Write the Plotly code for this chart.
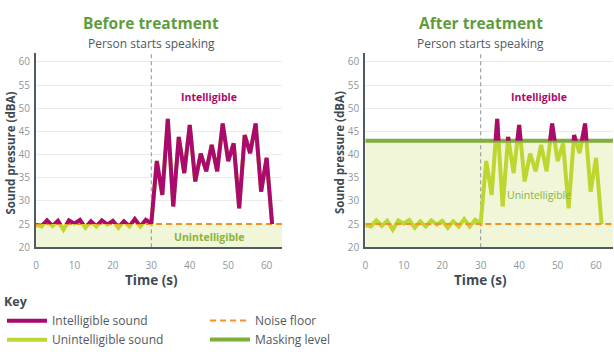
import plotly.graph_objects as go

# ---------------- data ----------------
time_s = [0, 1.43, 2.86, 4.29, 5.71, 7.14, 8.57, 10, 11.43, 12.86, 14.29, 15.71,
          17.14, 18.57, 20, 21.43, 22.86, 24.29, 25.71, 27.14, 28.57, 30,
          31.43, 32.86, 34.29, 35.71, 37.14, 38.57, 40, 41.43, 42.86, 44.29,
          45.71, 47.14, 48.57, 50, 51.43, 52.86, 54.29, 55.71, 57.14, 58.57,
          60, 61.43]
sound_dba = [24.8, 24.5, 25.8, 24.6, 25.7, 23.8, 25.8, 25.1, 25.9, 24.2, 25.6, 24.5,
             25.8, 24.9, 25.7, 24.2, 25.6, 24.5, 26.1, 24.5, 25.9, 25.2,
             38.6, 31.3, 47.7, 28.8, 43.8, 36.0, 46.4, 34.2, 40.2, 36.4,
             42.1, 36.4, 46.7, 38.6, 42.4, 28.4, 44.2, 40.3, 46.7, 32.0,
             39.3, 25.0]
noise_floor_dba = 25
masking_level_dba = 43
speech_start_s = 30
x_ticks = [0, 10, 20, 30, 40, 50, 60]
y_ticks = [20, 25, 30, 35, 40, 45, 50, 55, 60]
panel_titles = ["Before treatment", "After treatment"]

# ---------------- style ----------------
W, H = 614, 360
FONT = "Open Sans"
MAGENTA = "#aa0a6e"
LIME = "#bfd630"
ORANGE = "#f39222"
MASK_GREEN = "#7fae3a"
FILL = "#f1f6d8"
TITLE_GREEN = "#5f9d3c"
DARK = "#3e4a53"
AXIS = "#4f5a63"
TICK = "#8e969c"
GRID = "#ebebeb"

Y_MIN, Y_MAX = 20, 61.9
yd0, yd1 = 1 - 247.3 / H, 1 - 53 / H

panels = [
    dict(xa="x", ya="y", yhi="y3", xdom=[36 / W, 282 / W], xmax=64.0,
         thr=noise_floor_dba, mask=False, ytitle_x=9.5 / W,
         unint_y=22.2, unint_bold=True),
    dict(xa="x2", ya="y2", yhi="y4", xdom=[365.3 / W, 613 / W], xmax=64.4,
         thr=masking_level_dba, mask=True, ytitle_x=339 / W,
         unint_y=31.3, unint_bold=False),
]

fig = go.Figure()
layout = dict(width=W, height=H,
              margin=dict(l=0, r=0, t=0, b=0, pad=0, autoexpand=False),
              paper_bgcolor="white", plot_bgcolor="rgba(0,0,0,0)",
              font=dict(family=FONT, color=DARK), annotations=[])


def note(text, xref, yref, x, y, size, color, angle=0):
    return dict(text=text, xref=xref, yref=yref, x=x, y=y, showarrow=False,
                xanchor="center", yanchor="middle", textangle=angle,
                font=dict(size=size, color=color, family=FONT))


for k, p in enumerate(panels):
    xa, ya, yhi = p["xa"], p["ya"], p["yhi"]
    xname = "xaxis" + xa[1:]
    yname = "yaxis" + ya[1:]
    yhiname = "yaxis" + yhi[1:]
    frac = (p["thr"] - Y_MIN) / (Y_MAX - Y_MIN)
    layout[xname] = dict(domain=p["xdom"], range=[0, p["xmax"]], anchor=ya,
                         tickvals=x_ticks, showgrid=False, zeroline=False,
                         showline=True, linecolor=AXIS, linewidth=2,
                         ticks="outside", ticklen=8, tickcolor="rgba(0,0,0,0)",
                         tickfont=dict(size=10, color=TICK, family=FONT))
    layout[yname] = dict(domain=[yd0, yd1], range=[Y_MIN, Y_MAX], anchor=xa,
                         tickvals=y_ticks, showgrid=True, gridcolor=GRID,
                         gridwidth=1, zeroline=False, showline=True,
                         linecolor=AXIS, linewidth=2,
                         ticks="outside", ticklen=2, tickcolor="rgba(0,0,0,0)",
                         tickfont=dict(size=10, color=TICK, family=FONT))
    layout[yhiname] = dict(domain=[yd0 + frac * (yd1 - yd0), yd1],
                           range=[p["thr"], Y_MAX], anchor=xa,
                           showticklabels=False, showline=False, ticks="",
                           showgrid=False, zeroline=False)

    first = k == 0
    # filled region below threshold (baseline + fill to threshold)
    fig.add_trace(go.Scatter(x=[0, p["xmax"]], y=[Y_MIN, Y_MIN], xaxis=xa, yaxis=ya,
                             mode="lines", line=dict(width=0, color=FILL),
                             showlegend=False, hoverinfo="skip"))
    fig.add_trace(go.Scatter(x=[0, p["xmax"]], y=[p["thr"], p["thr"]], xaxis=xa,
                             yaxis=ya, mode="lines", fill="tonexty",
                             fillcolor=FILL, line=dict(width=0, color=FILL),
                             showlegend=False, hoverinfo="skip"))
    # speech start marker
    fig.add_trace(go.Scatter(x=[speech_start_s, speech_start_s], y=[Y_MIN, Y_MAX],
                             xaxis=xa, yaxis=ya, mode="lines",
                             line=dict(color="#8a9095", width=1, dash="4px,3px"),
                             showlegend=False, hoverinfo="skip"))

    fig.add_trace(go.Scatter(x=time_s, y=sound_dba, xaxis=xa, yaxis=ya,
                             mode="lines", line=dict(color=LIME, width=4),
                             name="Unintelligible sound", legend="legend",
                             legendrank=2, showlegend=first, hoverinfo="skip"))
    fig.add_trace(go.Scatter(x=time_s, y=sound_dba, xaxis=xa, yaxis=yhi,
                             mode="lines", line=dict(color=MAGENTA, width=4),
                             name="Intelligible sound", legend="legend",
                             legendrank=1, showlegend=first, hoverinfo="skip"))
    fig.add_trace(go.Scatter(x=[0, p["xmax"]], y=[noise_floor_dba] * 2,
                             xaxis=xa, yaxis=ya, mode="lines",
                             line=dict(color=ORANGE, width=2, dash="6px,4px"),
                             name="Noise floor", legend="legend2", legendrank=1,
                             showlegend=first, hoverinfo="skip"))
    if p["mask"]:
        fig.add_trace(go.Scatter(x=[0, p["xmax"]], y=[masking_level_dba] * 2,
                                 xaxis=xa, yaxis=ya, mode="lines",
                                 line=dict(color=MASK_GREEN, width=4),
                                 name="Masking level", legend="legend2",
                                 legendrank=2, showlegend=True, hoverinfo="skip"))

    ann = layout["annotations"]
    ann.append(note("<b>" + panel_titles[k] + "</b>", xa, "paper",
                    speech_start_s, 1 - 23.5 / H, 15.5, TITLE_GREEN))
    ann.append(note("Person starts speaking", xa, "paper",
                    speech_start_s, 1 - 43 / H, 12, "#4f5960"))
    ann.append(note("<b>Intelligible</b>", xa, ya, 45.1, 52.4, 10.5, MAGENTA))
    ut = "<b>Unintelligible</b>" if p["unint_bold"] else "Unintelligible"
    ann.append(note(ut, xa, ya, 45.1, p["unint_y"], 10.5, "#8ab43a"))
    ann.append(note("<b>Time (s)</b>", xa, "paper",
                    speech_start_s, 1 - 280 / H, 13.5, DARK))
    ann.append(note("<b>Sound pressure (dBA)</b>", "paper", "paper",
                    p["ytitle_x"], 1 - 153 / H, 11.5, DARK, angle=-90))

layout["legend"] = dict(x=2 / W, y=1 - 290 / H, xanchor="left", yanchor="top",
                        orientation="v", bgcolor="rgba(0,0,0,0)",
                        traceorder="normal",
                        title=dict(text="<b>Key</b>", side="top",
                                   font=dict(size=12.5, color=DARK, family=FONT)),
                        font=dict(size=12, color="#4f5960", family=FONT),
                        tracegroupgap=0, itemwidth=40)
layout["legend2"] = dict(x=205 / W, y=1 - 306 / H, xanchor="left", yanchor="top",
                         orientation="v", bgcolor="rgba(0,0,0,0)",
                         traceorder="normal",
                         font=dict(size=12, color="#4f5960", family=FONT),
                         tracegroupgap=0, itemwidth=40)

fig.update_layout(**layout)
fig.write_html("out.html", config={"displayModeBar": False},
               post_script="document.body.style.margin='0';"
                           "document.body.style.overflow='hidden';")
